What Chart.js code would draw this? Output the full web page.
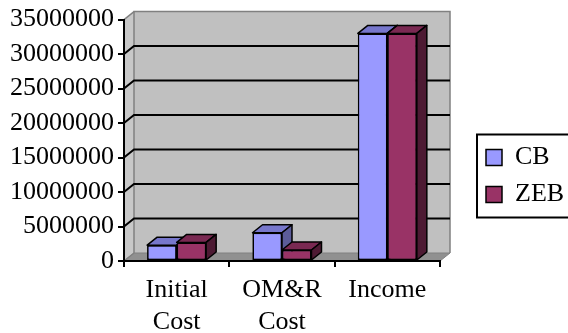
<!DOCTYPE html>
<html>
<head>
<meta charset="utf-8">
<script src="https://cdn.jsdelivr.net/npm/chart.js@4.4.0/dist/chart.umd.min.js"></script>
<style>
  html, body { margin: 0; padding: 0; background: #fff; }
  #wrap { width: 568px; height: 333px; }
</style>
</head>
<body>
<div id="wrap"><canvas id="chart" width="568" height="333"></canvas></div>
<script>
// ── Data ──
const categories = [['Initial', 'Cost'], ['OM&R', 'Cost'], 'Income'];
const seriesNames = ['CB', 'ZEB'];
const cbValues = [2300000, 4100000, 33000000];
const zebValues = [2700000, 1600000, 33000000];
const yMin = 0;
const yMax = 35000000;
const yStep = 5000000;

// ── Colours ──
const FONT = "'Liberation Serif', 'Times New Roman', serif";
const colors = {
  cb:  { front: '#9999FF', top: '#7777CC', side: '#5C5C99' },
  zeb: { front: '#993366', top: '#7A2952', side: '#4D1A33' },
  wall: '#C0C0C0',
  sideWall: '#C8C8C8',
  floor: '#909090',
  edge: '#808080',
};
const DEPTH = { dx: 10, dy: -8 };

// ── 3D look: walls, floor, back grid and bar tops/sides ──
const threeD = {
  id: 'threeD',
  beforeDraw(chart) {
    const { ctx, chartArea: a } = chart;
    const y = chart.scales.y;
    const { dx, dy } = DEPTH;
    ctx.save();
    // back wall
    ctx.fillStyle = colors.wall;
    ctx.fillRect(a.left + dx, a.top + dy, a.right - a.left, a.bottom - a.top);
    // left side wall
    ctx.fillStyle = colors.sideWall;
    ctx.beginPath();
    ctx.moveTo(a.left, a.top);
    ctx.lineTo(a.left + dx, a.top + dy);
    ctx.lineTo(a.left + dx, a.bottom + dy);
    ctx.lineTo(a.left, a.bottom);
    ctx.closePath();
    ctx.fill();
    // floor
    ctx.fillStyle = colors.floor;
    ctx.beginPath();
    ctx.moveTo(a.left, a.bottom);
    ctx.lineTo(a.left + dx, a.bottom + dy);
    ctx.lineTo(a.right + dx, a.bottom + dy);
    ctx.lineTo(a.right, a.bottom);
    ctx.closePath();
    ctx.fill();
    ctx.strokeStyle = colors.edge;
    ctx.lineWidth = 1;
    ctx.stroke();
    // back wall edges
    ctx.beginPath();
    ctx.moveTo(a.left + dx, a.bottom + dy);
    ctx.lineTo(a.left + dx, a.top + dy);
    ctx.lineTo(a.right + dx, a.top + dy);
    ctx.lineTo(a.right + dx, a.bottom + dy);
    ctx.strokeStyle = colors.edge;
    ctx.lineWidth = 1.5;
    ctx.stroke();
    // grid lines on back wall + diagonals on the side wall
    y.ticks.forEach(t => {
      const py = y.getPixelForValue(t.value);
      const inner = t.value > yMin && t.value < yMax;
      ctx.strokeStyle = inner ? '#000' : colors.edge;
      ctx.lineWidth = inner ? 2 : 1.5;
      ctx.beginPath();
      ctx.moveTo(a.left, py);
      ctx.lineTo(a.left + dx, py + dy);
      if (inner) ctx.lineTo(a.right + dx, py + dy);
      ctx.stroke();
    });
    ctx.restore();
  },
  afterDatasetsDraw(chart) {
    const { ctx } = chart;
    const { dx, dy } = DEPTH;
    const shades = [colors.cb, colors.zeb];
    ctx.save();
    ctx.lineJoin = 'round';
    for (let i = 0; i < categories.length; i++) {
      chart.data.datasets.forEach((ds, d) => {
        const el = chart.getDatasetMeta(d).data[i];
        if (!el) return;
        el.draw(ctx);
        const { x, y, base, width } = el.getProps(['x', 'y', 'base', 'width'], true);
        const x0 = x - width / 2, x1 = x + width / 2;
        ctx.strokeStyle = '#000';
        ctx.lineWidth = 1.5;
        // top
        ctx.fillStyle = shades[d].top;
        ctx.beginPath();
        ctx.moveTo(x0, y);
        ctx.lineTo(x0 + dx, y + dy);
        ctx.lineTo(x1 + dx, y + dy);
        ctx.lineTo(x1, y);
        ctx.closePath();
        ctx.fill(); ctx.stroke();
        // side
        ctx.fillStyle = shades[d].side;
        ctx.beginPath();
        ctx.moveTo(x1, y);
        ctx.lineTo(x1 + dx, y + dy);
        ctx.lineTo(x1 + dx, base + dy);
        ctx.lineTo(x1, base);
        ctx.closePath();
        ctx.fill(); ctx.stroke();
      });
    }
    ctx.restore();
  },
  afterDraw(chart) {
    // border around the legend, running off the right edge like the original
    const hb = chart.legend && chart.legend.legendHitBoxes;
    if (!hb || !hb.length) return;
    const { ctx } = chart;
    const last = hb[hb.length - 1];
    const left = hb[0].left - 9;
    const top = hb[0].top - 10;
    const bottom = last.top + last.height + 10;
    ctx.save();
    ctx.strokeStyle = '#000';
    ctx.lineWidth = 2;
    ctx.strokeRect(left, top, chart.width - left + 10, bottom - top);
    ctx.restore();
  }
};

new Chart(document.getElementById('chart'), {
  type: 'bar',
  data: {
    labels: categories,
    datasets: [
      { label: seriesNames[0], data: cbValues, backgroundColor: colors.cb.front },
      { label: seriesNames[1], data: zebValues, backgroundColor: colors.zeb.front },
    ].map(ds => ({
      ...ds,
      borderColor: '#000',
      borderWidth: 1.5,
      borderSkipped: false,
      barPercentage: 1,
      categoryPercentage: 0.56,
    }))
  },
  options: {
    responsive: false,
    animation: false,
    events: [],
    layout: { padding: { left: 10, top: 19, right: 0, bottom: 0 } },
    plugins: {
      tooltip: { enabled: false },
      legend: {
        position: 'right',
        labels: {
          color: '#000',
          font: { family: FONT, size: 26 },
          boxWidth: 16,
          boxHeight: 16,
          padding: 11,
        }
      }
    },
    scales: {
      x: {
        grid: { offset: true, drawOnChartArea: false, drawTicks: true, tickLength: 6, color: '#000', lineWidth: 2 },
        border: { display: true, color: '#000', width: 2 },
        ticks: { color: '#000', font: { family: FONT, size: 26, lineHeight: 1.23 }, padding: 7, maxRotation: 0, autoSkip: false },
        afterFit: s => { s.height = 72; }
      },
      y: {
        min: yMin,
        max: yMax,
        grid: { drawOnChartArea: false, drawTicks: true, tickLength: 6, color: '#000', lineWidth: 2 },
        border: { display: true, color: '#000', width: 2 },
        ticks: {
          stepSize: yStep,
          color: '#000',
          padding: 4,
          font: { family: FONT, size: 26 },
          callback: v => String(v)
        },
        afterFit: s => { s.width = 114; }
      },
      gap: {
        type: 'linear',
        axis: 'y',
        position: 'right',
        display: true,
        grid: { display: false },
        border: { display: false },
        ticks: { display: false },
        afterFit: s => { s.width = 35; }
      }
    }
  },
  plugins: [threeD]
});
</script>
</body>
</html>
